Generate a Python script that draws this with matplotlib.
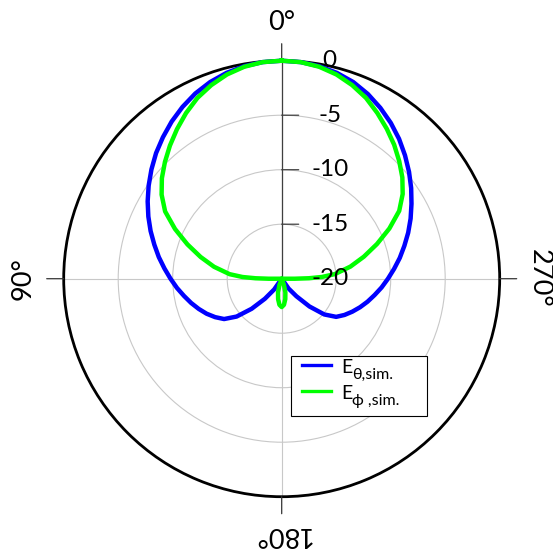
import numpy as np
import matplotlib
matplotlib.use("Agg")
import matplotlib.pyplot as plt
from matplotlib import transforms
from matplotlib.patches import Rectangle
from matplotlib.lines import Line2D

plt.rcParams['font.family'] = ['Lato', 'DejaVu Sans']

# ---- data (dB) ----
theta_b_deg = list(range(0, 365, 5))
e_theta_db = [0.0, -0.05, -0.2, -0.45, -0.8, -1.25, -1.8, -2.4, -3.05, -3.7,
              -4.4, -5.1, -5.8, -6.5, -7.2, -7.9, -8.55, -9.2, -9.8, -10.35,
              -10.9, -11.4, -11.9, -12.4, -12.95, -13.55, -14.6, -16.1, -17.6, -18.8,
              -20, -20, -20, -20, -20, -20, -20,
              -20, -20, -20, -20, -20, -20,
              -18.9, -17.9, -16.4, -14.9, -13.9, -13.35, -12.85, -12.35, -11.85, -11.35,
              -10.8, -10.25, -9.65, -9.0, -8.35, -7.65, -6.95, -6.25, -5.5, -4.75,
              -4.0, -3.25, -2.55, -1.9, -1.3, -0.8, -0.45, -0.2, -0.05, 0.0]

theta_g_deg = [0, 5, 10, 15, 20, 25, 30, 35, 40, 45, 50, 55, 60, 65, 70, 75, 80, 85,
               87.5, 89, 90, 91,
               100, 110, 120, 130, 140, 150,
               155, 160, 165, 170, 175, 180,
               185, 190, 195, 200, 205,
               210, 220, 230, 240, 250, 260,
               269, 270, 271, 272.5,
               275, 280, 285, 290, 295, 300, 305, 310, 315, 320, 325, 330, 335, 340,
               345, 350, 355, 360]
e_phi_db = [0.0, -0.05, -0.25, -0.6, -1.1, -1.7, -2.45, -3.25, -4.05, -4.85, -5.65, -6.55,
            -7.65, -9.2, -10.8, -12.3, -13.7, -15.2,
            -16.4, -17.6, -18.8, -20,
            -20, -20, -20, -20, -20, -20,
            -20, -19.4, -18.7, -18.1, -17.6, -17.4,
            -17.6, -18.1, -18.7, -19.4, -20,
            -20, -20, -20, -20, -20, -20,
            -20, -18.8, -17.5, -16.3,
            -15.1, -13.6, -12.2, -10.7, -9.1, -7.55, -6.45, -5.55, -4.75, -3.95,
            -3.2, -2.45, -1.7, -1.1, -0.6, -0.25, -0.05, 0.0]

r_ticks = [0, -5, -10, -15, -20]
r_tick_labels = ['0', '-5', '-10', '-15', '-20']
angle_ticks = [0, 90, 180, 270]
angle_labels = ['0°', '90°', '180°', '270°']
angle_rot = [0, 90, 180, 270]
angle_lbl_r = [3.55, 3.75, 3.5, 3.6]
legend_main = ['E', 'E']
legend_sub = ['θ,sim.', 'ϕ ,sim.']
series_colors = ['#0000ff', '#00ff00']

# ---- figure ----
W, H = 553, 554
fig = plt.figure(figsize=(W / 100, H / 100), dpi=100)
ax = fig.add_axes([0.1152, 0.1034, 0.7884, 0.787], projection='polar')
ax.set_theta_zero_location('N')
ax.set_theta_direction(1)
ax.set_rlim(-20, 0)
ax.set_rticks([-15, -10, -5])
ax.set_yticklabels([])
ax.set_thetagrids(angle_ticks, labels=[''] * len(angle_ticks))
ax.grid(color='#c8c8c8', linewidth=0.8)
ax.spines['polar'].set_linewidth(2.0)
ax.spines['polar'].set_color('black')
ax.tick_params(axis='x', length=0)
ax.axvline(0, color='#404040', linewidth=0.9, zorder=2.5)

# outer angle tick marks
tick_dirs = {0: (0, 17), 90: (-17, 0), 180: (0, -17), 270: (17, 0)}
for a in angle_ticks:
    ax.annotate('', xy=(np.deg2rad(a), 0), xytext=tick_dirs[a], textcoords='offset pixels',
                arrowprops=dict(arrowstyle='-', color='#333333', lw=0.9,
                                shrinkA=0, shrinkB=0), annotation_clip=False, zorder=2.6)

# radial tick marks and labels
off_lbl = transforms.offset_copy(ax.transData, fig=fig, x=48, y=0, units='dots')
for r, lab in zip(r_ticks, r_tick_labels):
    ax.annotate('', xy=(0, r), xytext=(17, 0), textcoords='offset pixels',
                arrowprops=dict(arrowstyle='-', color='#404040', lw=0.9,
                                shrinkA=0, shrinkB=0), zorder=2.6)
    ax.text(0, r, lab, transform=off_lbl, ha='center', va='center',
            fontsize=17.5, color='black', zorder=10, clip_on=False)

# angle labels
for a, lab, rot, rr in zip(angle_ticks, angle_labels, angle_rot, angle_lbl_r):
    ax.text(np.deg2rad(a), rr, lab, ha='center', va='center', rotation=rot,
            rotation_mode='anchor', fontsize=19.5, clip_on=False)

ax.plot(np.deg2rad(theta_b_deg), e_theta_db, color=series_colors[0], lw=3.2,
        clip_on=False, zorder=3)
ax.plot(np.deg2rad(theta_g_deg), e_phi_db, color=series_colors[1], lw=3.2,
        clip_on=False, zorder=4)

# ---- legend box (drawn by hand to get the large subscripts) ----
def fx(px):
    return px / W

def fy(py):
    return 1 - py / H

box = Rectangle((fx(291), fy(416)), fx(427) - fx(291), fy(356) - fy(416),
                transform=fig.transFigure, facecolor='white', edgecolor='black',
                linewidth=0.8, zorder=20)
fig.add_artist(box)
row_line_y = [365, 391]
row_base_y = [373, 399]
for i in range(2):
    fig.add_artist(Line2D([fx(301.5), fx(331)], [fy(row_line_y[i])] * 2,
                          transform=fig.transFigure, color=series_colors[i],
                          lw=2.4, zorder=21))
    fig.text(fx(341), fy(row_base_y[i]), legend_main[i], fontsize=14,
             ha='left', va='baseline', zorder=22)
    fig.text(fx(352.5), fy(row_base_y[i] + 6), legend_sub[i], fontsize=11.5,
             ha='left', va='baseline', zorder=22)

fig.savefig('out.png', dpi=100)
